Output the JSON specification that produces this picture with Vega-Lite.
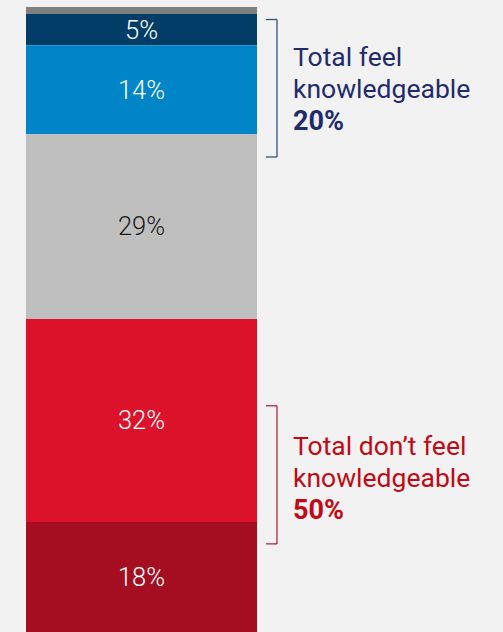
{
  "$schema": "https://vega.github.io/schema/vega-lite/v6.json",
  "width": 503,
  "height": 625,
  "autosize": {"type": "none"},
  "padding": {"top": 7, "left": 0, "right": 0, "bottom": 0},
  "background": "#f2f2f2",
  "config": {"view": {"stroke": null}},
  "datasets": {
    "segments": [
      {"column": "Response", "segment": "No answer", "value": 1.1, "label": "", "rank": 1},
      {"column": "Response", "segment": "Very knowledgeable", "value": 5.0, "label": "5%", "rank": 2},
      {"column": "Response", "segment": "Somewhat knowledgeable", "value": 14.2, "label": "14%", "rank": 3},
      {"column": "Response", "segment": "Neutral", "value": 29.6, "label": "29%", "rank": 4},
      {"column": "Response", "segment": "Not very knowledgeable", "value": 32.5, "label": "32%", "rank": 5},
      {"column": "Response", "segment": "Not at all knowledgeable", "value": 17.6, "label": "18%", "rank": 6}
    ],
    "groups": [
      {"group": "Feel knowledgeable", "lines": "Total feel\nknowledgeable", "total": "20%", "start": 2.0, "end": 24.0, "textY": 9.44},
      {"group": "Don't feel knowledgeable", "lines": "Total don’t feel\nknowledgeable", "total": "50%", "start": 63.8, "end": 85.9, "textY": 71.7}
    ]
  },
  "resolve": {"scale": {"color": "independent"}},
  "encoding": {
    "x": {
      "field": "column",
      "type": "nominal",
      "axis": null,
      "scale": {"domain": ["Response"], "paddingInner": 0, "paddingOuter": 0.58874, "align": 0.09559}
    }
  },
  "layer": [
    {
      "data": {"name": "segments"},
      "mark": {"type": "bar"},
      "encoding": {
        "y": {"field": "value", "type": "quantitative", "stack": "zero", "axis": null, "scale": {"domain": [0, 100], "reverse": true, "nice": false}},
        "order": {"field": "rank", "type": "quantitative"},
        "color": {
          "field": "segment",
          "type": "nominal",
          "legend": null,
          "scale": {
            "domain": ["No answer", "Very knowledgeable", "Somewhat knowledgeable", "Neutral", "Not very knowledgeable", "Not at all knowledgeable"],
            "range": ["#808080", "#013d66", "#0085c8", "#bfbfbf", "#dc122b", "#a50e20"]
          }
        }
      }
    },
    {
      "data": {"name": "segments"},
      "mark": {"type": "text", "font": "Roboto", "fontSize": 25.5, "fontWeight": 300, "baseline": "middle", "align": "center", "dy": 1},
      "encoding": {
        "y": {"field": "value", "type": "quantitative", "stack": "zero", "bandPosition": 0.5},
        "order": {"field": "rank", "type": "quantitative"},
        "text": {"field": "label", "type": "nominal"},
        "color": {
          "condition": {"test": "datum.segment === 'Neutral'", "value": "#1a1a1a"},
          "value": "#ffffff"
        }
      }
    },
    {
      "data": {"name": "groups"},
      "mark": {"type": "rule", "strokeWidth": 1.3, "xOffset": 135.5},
      "encoding": {
        "x": {"datum": "Response", "type": "nominal"},
        "y": {"field": "start", "type": "quantitative"},
        "y2": {"field": "end"},
        "color": {"field": "group", "type": "nominal", "legend": null,
          "scale": {"domain": ["Feel knowledgeable", "Don't feel knowledgeable"], "range": ["#34507a", "#b0283a"]}}
      }
    },
    {
      "data": {"name": "groups"},
      "mark": {"type": "rule", "strokeWidth": 1.3, "xOffset": 124.5, "x2Offset": 135.5},
      "encoding": {
        "x": {"datum": "Response", "type": "nominal"},
        "x2": {"datum": "Response"},
        "y": {"field": "start", "type": "quantitative"},
        "color": {"field": "group", "type": "nominal", "legend": null,
          "scale": {"domain": ["Feel knowledgeable", "Don't feel knowledgeable"], "range": ["#34507a", "#b0283a"]}}
      }
    },
    {
      "data": {"name": "groups"},
      "mark": {"type": "rule", "strokeWidth": 1.3, "xOffset": 124.5, "x2Offset": 135.5},
      "encoding": {
        "x": {"datum": "Response", "type": "nominal"},
        "x2": {"datum": "Response"},
        "y": {"field": "end", "type": "quantitative"},
        "color": {"field": "group", "type": "nominal", "legend": null,
          "scale": {"domain": ["Feel knowledgeable", "Don't feel knowledgeable"], "range": ["#34507a", "#b0283a"]}}
      }
    },
    {
      "data": {"name": "groups"},
      "mark": {"type": "text", "font": "Roboto", "fontSize": 26.5, "align": "left", "baseline": "alphabetic", "lineBreak": "\n", "lineHeight": 32, "dx": 151.5},
      "encoding": {
        "x": {"datum": "Response", "type": "nominal"},
        "y": {"field": "textY", "type": "quantitative"},
        "text": {"field": "lines", "type": "nominal"},
        "color": {"field": "group", "type": "nominal", "legend": null,
          "scale": {"domain": ["Feel knowledgeable", "Don't feel knowledgeable"], "range": ["#1f2b6e", "#c10a16"]}}
      }
    },
    {
      "data": {"name": "groups"},
      "mark": {"type": "text", "font": "Roboto", "fontSize": 27, "fontWeight": "bold", "align": "left", "baseline": "alphabetic", "dx": 151.5, "dy": 64},
      "encoding": {
        "x": {"datum": "Response", "type": "nominal"},
        "y": {"field": "textY", "type": "quantitative"},
        "text": {"field": "total", "type": "nominal"},
        "color": {"field": "group", "type": "nominal", "legend": null,
          "scale": {"domain": ["Feel knowledgeable", "Don't feel knowledgeable"], "range": ["#1f2b6e", "#c10a16"]}}
      }
    }
  ]
}
